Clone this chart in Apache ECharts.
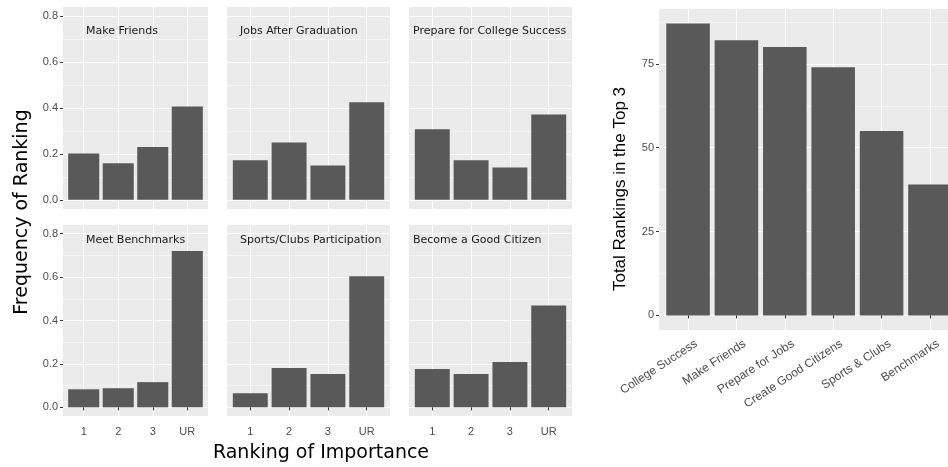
<!DOCTYPE html>
<html>
<head>
<meta charset="utf-8">
<script src="https://cdn.jsdelivr.net/npm/echarts@6/dist/echarts.min.js"></script>
<style>
  html, body { margin: 0; padding: 0; background: #fff; }
  #main { width: 948px; height: 467px; }
</style>
</head>
<body>
<div id="main"></div>
<script>
// ranking levels under each facet
const rankCats = ['1', '2', '3', 'UR'];

// share of answers for each rank, one array per goal
const makeFriends = [0.202, 0.159, 0.230, 0.407];
const jobsAfterGraduation = [0.172, 0.250, 0.150, 0.425];
const collegeSuccess = [0.307, 0.172, 0.141, 0.372];
const meetBenchmarks = [0.083, 0.088, 0.116, 0.720];
const sportsClubs = [0.065, 0.181, 0.153, 0.604];
const goodCitizen = [0.176, 0.153, 0.209, 0.469];

const facetNames = ['Make Friends', 'Jobs After Graduation', 'Prepare for College Success',
  'Meet Benchmarks', 'Sports/Clubs Participation', 'Become a Good Citizen'];
const facetValues = [makeFriends, jobsAfterGraduation, collegeSuccess,
  meetBenchmarks, sportsClubs, goodCitizen];

const freqTicks = [0, 0.2, 0.4, 0.6, 0.8];
const freqMinor = [0.1, 0.3, 0.5, 0.7];

// how often each goal was ranked in the top 3
const goalNames = ['College Success', 'Make Friends', 'Prepare for Jobs',
  'Create Good Citizens', 'Sports & Clubs', 'Benchmarks'];
const top3Totals = [87, 82, 80, 74, 55, 39];
const totalTicks = [0, 25, 50, 75];
const totalMinor = [12.5, 37.5, 62.5, 87.5];

// panel layout (pixels)
const colX = [63, 227, 409];
const colW = [145, 163, 163];
const rowY = [7, 225];
const rowH = [202, 191];
const labelX = [86, 240, 413];
const labelY = [26, 235];

const tickFont = 'Liberation Sans';
const texFont = 'DejaVu Sans';
const barColor = '#595959';

const chart = echarts.init(document.getElementById('main'), null, { renderer: 'canvas' });

var grids = [], xAxes = [], yAxes = [], series = [], titles = [];

function addPanel(idx, box, xCats, yMin, yMax, yMajor, yMinor, showX, showY, xLabelOpts) {
  grids.push({
    left: box.left, top: box.top, width: box.width, height: box.height,
    show: true, backgroundColor: '#EBEBEB', borderWidth: 0,
    containLabel: false, outerBoundsMode: 'none'
  });
  var pos = xCats.map(function (c, k) { return k + 1; });
  xAxes.push({
    gridIndex: idx, type: 'value', min: 0.4, max: xCats.length + 0.6,
    axisLine: { show: false },
    axisTick: { show: showX, customValues: pos, length: 3, lineStyle: { color: '#333333', width: 1 } },
    axisLabel: Object.assign({
      show: showX, customValues: pos,
      formatter: function (v) { return xCats[Math.round(v) - 1]; },
      color: '#4D4D4D', fontSize: 11, fontFamily: tickFont, margin: 10
    }, xLabelOpts || {}),
    splitLine: { show: true, lineStyle: { color: '#FFFFFF', width: 1.1 } }
  });
  yAxes.push({
    gridIndex: idx, type: 'value', min: yMin, max: yMax,
    axisLine: { show: false },
    axisTick: { show: showY, customValues: yMajor, length: 3, lineStyle: { color: '#333333', width: 1 } },
    axisLabel: {
      show: showY, customValues: yMajor,
      formatter: function (v) { return yMax < 2 ? v.toFixed(1) : String(v); },
      color: '#4D4D4D', fontSize: 11, fontFamily: tickFont, margin: 5
    },
    splitLine: { show: true, lineStyle: { color: '#FFFFFF', width: 1.1 } }
  });
  yAxes.push({
    gridIndex: idx, type: 'value', min: yMin, max: yMax, position: 'right',
    axisLine: { show: false },
    axisTick: { show: false, customValues: yMinor },
    axisLabel: { show: false, customValues: yMinor },
    splitLine: { show: true, lineStyle: { color: '#FFFFFF', width: 0.5 } }
  });
}

facetValues.forEach(function (vals, i) {
  var col = i % 3, row = Math.floor(i / 3);
  var box = { left: colX[col], top: rowY[row], width: colW[col], height: rowH[row] };
  addPanel(i, box, rankCats, -0.04, 0.84, freqTicks, freqMinor, row === 1, col === 0);
  series.push({
    type: 'bar', xAxisIndex: i, yAxisIndex: 2 * i,
    data: vals.map(function (v, k) { return [k + 1, v]; }),
    barWidth: 0.9 * colW[col] / 4.2,
    itemStyle: { color: barColor }, silent: true
  });
  titles.push({
    text: facetNames[i], left: labelX[col], top: labelY[row], padding: 0,
    textStyle: { fontFamily: texFont, fontSize: 11, fontWeight: 'normal', color: '#1A1A1A' }
  });
});

// right hand chart
var rightBox = { left: 659, top: 9, width: 300, height: 321 };
addPanel(6, rightBox, goalNames, -4.35, 91.35, totalTicks, totalMinor, true, true,
  { rotate: 33, fontSize: 12, margin: 11, verticalAlign: 'top', padding: [0, -6, 0, 0] });
series.push({
  type: 'bar', xAxisIndex: 6, yAxisIndex: 12,
  data: top3Totals.map(function (v, k) { return [k + 1, v]; }),
  barWidth: 0.9 * rightBox.width / 6.2,
  itemStyle: { color: barColor }, silent: true
});

var option = {
  animation: false,
  title: titles,
  grid: grids,
  xAxis: xAxes,
  yAxis: yAxes,
  series: series,
  graphic: [
    {
      type: 'text', x: 22, y: 212, rotation: Math.PI / 2,
      style: { text: 'Frequency of Ranking', fontFamily: texFont, fontSize: 19,
        fill: '#000', align: 'center', verticalAlign: 'middle' }
    },
    {
      type: 'text', x: 321, y: 453,
      style: { text: 'Ranking of Importance', fontFamily: texFont, fontSize: 19,
        fill: '#000', align: 'center', verticalAlign: 'middle' }
    },
    {
      type: 'text', x: 620, y: 189, rotation: Math.PI / 2,
      style: { text: 'Total Rankings in the Top 3', fontFamily: tickFont, fontSize: 17,
        fill: '#000', align: 'center', verticalAlign: 'middle' }
    }
  ]
};

chart.setOption(option);
</script>
</body>
</html>
